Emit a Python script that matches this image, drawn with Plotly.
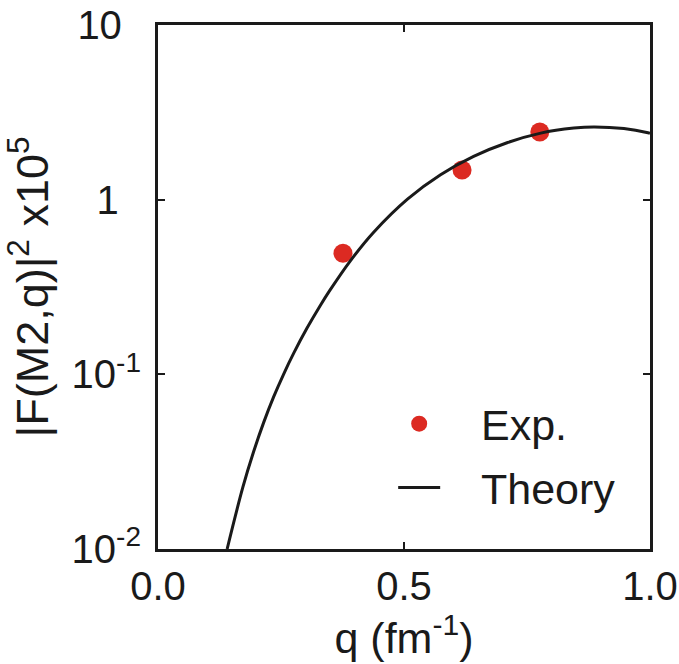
import plotly.graph_objects as go

# Experimental points
exp_q = [0.376, 0.618, 0.776]
exp_f = [0.494, 1.48, 2.44]

# Theory curve
th_q = [0.1405, 0.1725, 0.1941, 0.2145, 0.2348, 0.2552, 0.2756, 0.3029, 0.3299,
        0.3489, 0.3910, 0.4379, 0.5071, 0.5743, 0.6415, 0.7108, 0.7780, 0.8452,
        0.8859, 0.9470, 0.9959, 1.0]
th_f = [0.0100, 0.02258, 0.03591, 0.05273, 0.0740, 0.1001, 0.1318, 0.184, 0.2481,
        0.3015, 0.4466, 0.6488, 1.007, 1.388, 1.768, 2.125, 2.405, 2.570,
        2.610, 2.555, 2.417, 2.399]

NB = "\u00a0"
x_ticks = [0.0, 0.5, 1.0]
x_ticktext = ["0.0", "0.5", "1.0"]
y_ticks = [0.01, 0.1, 1, 10]
y_ticktext = ["10<sup>-2</sup>", "10<sup>-1</sup>", "1" + NB * 2, "10" + NB + "\u2009"]

FONT = "Liberation Sans, Arial, sans-serif"
FS = 40

fig = go.Figure()
fig.add_trace(go.Scatter(
    x=exp_q, y=exp_f, mode="markers", name=NB * 3 + "Exp.",
    legendgroup="a",
    marker=dict(color="#dc2a22", size=19),
))
fig.add_trace(go.Scatter(
    x=th_q, y=th_f, mode="lines", name=NB * 3 + "Theory",
    legendgroup="b",
    line=dict(color="#1a1a1a", width=3, shape="spline"),
))

axis_common = dict(
    showline=True, linecolor="#1a1a1a", linewidth=3, mirror="ticks",
    ticks="inside", ticklen=7, tickwidth=2, tickcolor="#1a1a1a",
    showgrid=False, zeroline=False, automargin=False,
    tickfont=dict(family=FONT, size=FS, color="#1a1a1a"),
)

fig.update_layout(
    width=679, height=664,
    margin=dict(l=158, r=29, t=25, b=115, autoexpand=False),
    paper_bgcolor="white", plot_bgcolor="white",
    font=dict(family=FONT, size=FS, color="#1a1a1a"),
    showlegend=True,
    legend=dict(
        x=0.478, y=0.305, xanchor="left", yanchor="top",
        bgcolor="rgba(0,0,0,0)", font=dict(size=43, family=FONT),
        itemwidth=42, traceorder="grouped", tracegroupgap=5,
    ),
    xaxis=dict(
        range=[0, 1], tickvals=x_ticks, ticktext=x_ticktext,
        title=dict(text="q (fm<sup>-1</sup>)", standoff=6,
                   font=dict(family=FONT, size=43)),
        **axis_common,
    ),
    yaxis=dict(
        type="log", range=[-2, 1], tickvals=y_ticks, ticktext=y_ticktext,
        ticklabelstandoff=6,
        title=dict(text="|F(M2,q)|<sup>2</sup> x10<sup>5</sup>", standoff=10,
                   font=dict(family=FONT, size=45)),
        **axis_common,
    ),
)

fig.write_html("out.html")
